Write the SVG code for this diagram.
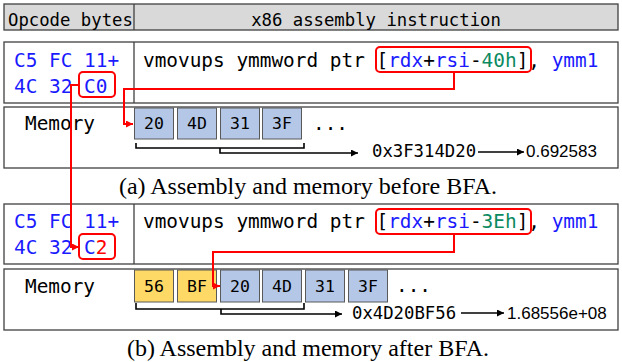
<svg xmlns="http://www.w3.org/2000/svg" width="622" height="362" viewBox="0 0 622 362">
<defs>
<marker id="ah" viewBox="0 0 10 10" refX="10" refY="5" markerWidth="8" markerHeight="7" markerUnits="userSpaceOnUse" orient="auto"><path d="M0,0 L10,5 L0,10 z" fill="#000"/></marker>
<marker id="ahr" viewBox="0 0 10 10" refX="10" refY="5" markerWidth="7" markerHeight="7" markerUnits="userSpaceOnUse" orient="auto"><path d="M0,0 L10,5 L0,10 z" fill="#ff0000"/></marker>
</defs>
<style>
.box{fill:#fff;stroke:#404040;stroke-width:1.3}
.hdr{fill:#d9d9d9;stroke:#404040;stroke-width:1.3}
.div{stroke:#404040;stroke-width:1.3}
.mono{font-family:'DejaVu Sans Mono',monospace;fill:#000}
.t19{font-size:19.4px}
.t17{font-size:17.3px}
.blue{fill:#1a1aff}
.green{fill:#0b8a5f}
.red{fill:#ff0000}
.cell{fill:#b4c7e7;stroke:#595959;stroke-width:1}
.ycell{fill:#ffd966;stroke:#595959;stroke-width:1}
.ctext{font-family:'DejaVu Sans Mono',monospace;font-size:16.5px;text-anchor:middle;fill:#000}
.hl{fill:none;stroke:#ff0000;stroke-width:2}
.wire{fill:none;stroke:#ff0000;stroke-width:2}
.br{fill:none;stroke:#000;stroke-width:1.6}
.cap{font-family:'Liberation Serif',serif;font-size:24px;text-anchor:middle;fill:#000}
.val{font-family:'Liberation Sans',sans-serif;font-size:17px;fill:#000}
</style>

<g id="header">
<rect class="hdr" x="4" y="4" width="614" height="26"/>
<line class="div" x1="134" y1="4" x2="134" y2="30"/>
<text class="mono t17" x="8" y="26">Opcode bytes</text>
<text class="mono t17" x="376" y="26" text-anchor="middle">x86 assembly instruction</text>
</g>

<g id="row-a">
<rect class="box" x="4" y="42" width="614" height="61"/>
<line class="div" x1="134" y1="42" x2="134" y2="103"/>
<text class="mono t19 blue" x="14" y="67">C5 FC 11+</text>
<text class="mono t19 blue" x="14" y="93">4C 32 C0</text>
<text class="mono t19" x="143" y="67">vmovups ymmword ptr [<tspan class="blue">rdx</tspan>+<tspan class="blue">rsi</tspan>-<tspan class="green">40h</tspan>], <tspan class="blue">ymm1</tspan></text>
<rect class="hl" x="79" y="72" width="36" height="25" rx="4"/>
<rect class="hl" x="376" y="47" width="155" height="25" rx="4"/>
</g>

<g id="mem-a">
<rect class="box" x="4" y="107" width="614" height="61"/>
<text class="mono t19" x="25" y="130">Memory</text>
<rect class="cell" x="134.5" y="108" width="39" height="31"/>
<rect class="cell" x="177.5" y="108" width="39" height="31"/>
<rect class="cell" x="220.5" y="108" width="39" height="31"/>
<rect class="cell" x="262.5" y="108" width="39" height="31"/>
<text class="ctext" x="154" y="129">20</text>
<text class="ctext" x="197" y="129">4D</text>
<text class="ctext" x="240" y="129">31</text>
<text class="ctext" x="282" y="129">3F</text>
<text class="mono t19" x="313" y="130">...</text>
<text class="mono t17" x="372" y="157">0x3F314D20</text>
<text class="val" x="526" y="157">0.692583</text>
</g>

<g id="caption-a">
<text class="cap" x="308" y="194">(a) Assembly and memory before BFA.</text>
</g>

<g id="row-b">
<rect class="box" x="4" y="204" width="614" height="60"/>
<line class="div" x1="134" y1="204" x2="134" y2="264"/>
<text class="mono t19 blue" x="14" y="228">C5 FC 11+</text>
<text class="mono t19 blue" x="14" y="254">4C 32 C<tspan class="red">2</tspan></text>
<text class="mono t19" x="143" y="228">vmovups ymmword ptr [<tspan class="blue">rdx</tspan>+<tspan class="blue">rsi</tspan>-<tspan class="green">3Eh</tspan>], <tspan class="blue">ymm1</tspan></text>
<rect class="hl" x="79" y="234" width="36" height="25" rx="4"/>
<rect class="hl" x="376" y="209" width="155" height="25" rx="4"/>
</g>

<g id="mem-b">
<rect class="box" x="4" y="269" width="614" height="61"/>
<text class="mono t19" x="25" y="293">Memory</text>
<rect class="ycell" x="134.5" y="270" width="39" height="32"/>
<rect class="ycell" x="177.5" y="270" width="39" height="32"/>
<rect class="cell" x="220.5" y="270" width="39" height="32"/>
<rect class="cell" x="262.5" y="270" width="39" height="32"/>
<rect class="cell" x="305.5" y="270" width="39" height="32"/>
<rect class="cell" x="348.5" y="270" width="39" height="32"/>
<text class="ctext" x="154" y="292">56</text>
<text class="ctext" x="197" y="292">BF</text>
<text class="ctext" x="240" y="292">20</text>
<text class="ctext" x="282" y="292">4D</text>
<text class="ctext" x="325" y="292">31</text>
<text class="ctext" x="368" y="292">3F</text>
<text class="mono t19" x="396" y="292">...</text>
<text class="mono t17" x="352" y="319">0x4D20BF56</text>
<text class="val" x="507" y="319">1.68556e+08</text>
</g>

<g id="caption-b">
<text class="cap" x="308" y="356">(b) Assembly and memory after BFA.</text>
</g>

<g id="connectors">
<path class="wire" d="M454,72 V89 H124 V124 H133" marker-end="url(#ahr)"/>
<path class="wire" d="M79,85 H71 V247 H79" marker-end="url(#ahr)"/>
<path class="wire" d="M454,234 V252 H213 V286 H220" marker-end="url(#ahr)"/>
<path class="br" d="M136,143 V148 H304 V143"/>
<path class="br" d="M220,148 V153 H358" marker-end="url(#ah)"/>
<path class="br" d="M478,152 H524" marker-end="url(#ah)"/>
<path class="br" d="M136,303 V309 H304 V303"/>
<path class="br" d="M221,309 V314 H342" marker-end="url(#ah)"/>
<path class="br" d="M461,313 H504" marker-end="url(#ah)"/>
</g>
</svg>
